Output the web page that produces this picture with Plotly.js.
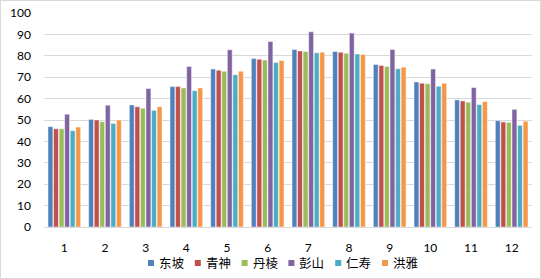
<!DOCTYPE html>
<html><head><meta charset="utf-8">
<script src="https://cdn.plot.ly/plotly-3.0.1.min.js"></script>
<style>html,body{margin:0;padding:0;background:#fff}#c{width:541px;height:279px;position:relative}#f{position:absolute;left:0;top:0;width:539px;height:277px;border:1px solid #d9d9d9;pointer-events:none}</style>
</head><body><div id="c"></div><div id="f"></div>
<script>
const months = ['1','2','3','4','5','6','7','8','9','10','11','12'];
const names = ['东坡','青神','丹棱','彭山','仁寿','洪雅'];
const dongpo  = [46.9,50.3,57.0,65.6,73.8,78.7,82.9,82.0,75.9,67.8,59.4,49.7];
const qingshen= [45.9,50.0,56.2,65.6,73.3,78.4,82.3,81.7,75.5,67.2,58.9,49.1];
const danleng = [45.9,49.2,55.5,65.0,72.8,78.0,82.0,81.2,75.0,66.9,58.3,48.9];
const pengshan= [52.7,56.9,64.7,75.0,82.8,86.7,91.2,90.6,82.9,73.8,65.2,55.0];
const renshou = [45.0,48.4,54.5,63.7,71.2,76.9,81.4,80.8,73.9,65.8,57.2,47.5];
const hongya  = [46.7,50.0,56.2,65.0,72.8,77.8,81.7,80.6,74.7,67.2,58.6,49.4];
const series = [dongpo,qingshen,danleng,pengshan,renshou,hongya];
const colors = ['#4F81BD','#C0504D','#9BBB59','#8064A2','#4BACC6','#F79646'];
const traces = series.map((v,i)=>({type:'bar',x:months,y:v,name:names[i],
  marker:{color:colors[i],line:{color:'rgba(255,255,255,0.6)',width:0.8}}}));
const font = "Lato, 'Noto Sans CJK SC', sans-serif";
// custom legend (pixel layout converted to paper coords)
const L=44, W=488, T=13, H=214;
const px = x => (x-L)/W, py = y => (T+H-y)/H;
const shapes=[], annotations=[];
names.forEach((n,i)=>{
  const x0 = 148 + i*46.8;
  shapes.push({type:'rect',xref:'paper',yref:'paper',x0:px(x0),x1:px(x0+6),y0:py(266),y1:py(260),fillcolor:colors[i],line:{width:0}});
  annotations.push({xref:'paper',yref:'paper',x:px(x0+9),y:py(263),xanchor:'left',yanchor:'middle',text:n,showarrow:false,font:{size:12.5,color:'#000'}});
});
Plotly.newPlot('c',traces,{
  width:541,height:279,margin:{l:44,r:9,t:13,b:52},
  paper_bgcolor:'#fff',plot_bgcolor:'#fff',
  font:{family:font,size:12,color:'#000'},
  barmode:'group',bargap:0.18,bargroupgap:0.12,
  xaxis:{type:'category',automargin:false,showgrid:false,showline:true,linecolor:'#d9d9d9',linewidth:1,ticks:'',tickfont:{size:12},ticklabelstandoff:10},
  yaxis:{range:[0,100],dtick:10,automargin:false,showgrid:true,gridcolor:'#d9d9d9',gridwidth:1,zeroline:false,showline:false,ticks:'',tickfont:{size:12},ticklabelstandoff:12},
  showlegend:false,shapes:shapes,annotations:annotations
},{staticPlot:true});
</script></body></html>
